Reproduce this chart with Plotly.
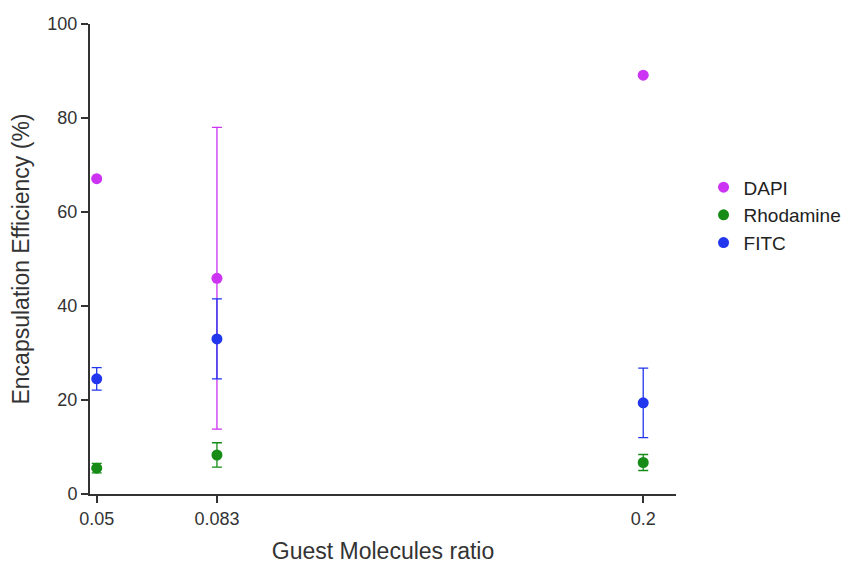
import plotly.graph_objects as go

ratios = [0.05, 0.083, 0.2]
tick_labels = ["0.05", "0.083", "0.2"]

dapi = [67.1, 45.9, 89.1]
dapi_err = [0.0, 32.1, 0.0]
rhodamine = [5.5, 8.3, 6.7]
rhodamine_err = [1.0, 2.6, 1.7]
fitc = [24.5, 33.0, 19.4]
fitc_err = [2.4, 8.5, 7.4]

series = [
    ("DAPI", dapi, dapi_err, "#cc33f2"),
    ("Rhodamine", rhodamine, rhodamine_err, "#168c16"),
    ("FITC", fitc, fitc_err, "#2236ee"),
]

fig = go.Figure()
for name, vals, errs, color in series:
    fig.add_trace(go.Scatter(
        x=ratios, y=vals, name=name, mode="markers",
        marker=dict(color=color, size=11),
        error_y=dict(type="data", array=errs, visible=True, color=color,
                     thickness=1.3, width=5),
    ))

FONT = "Liberation Sans, Arial, sans-serif"
axis_font = dict(family=FONT, size=18, color="#333333")
title_font = dict(family=FONT, size=23, color="#333333")
fig.update_layout(
    width=861, height=565,
    plot_bgcolor="white", paper_bgcolor="white",
    margin=dict(l=90, r=185, t=24, b=71, autoexpand=False),
    font=dict(family=FONT, color="#333333"),
    legend=dict(x=1.047, y=0.693, xanchor="left", yanchor="top",
                font=dict(family=FONT, size=19, color="#222222"), tracegroupgap=0,
                itemwidth=30, bgcolor="rgba(0,0,0,0)"),
    showlegend=True,
)
fig.update_xaxes(
    range=[0.04816, 0.209], tickvals=ratios, ticktext=tick_labels,
    showline=True, linecolor="#333333", linewidth=2,
    ticks="outside", ticklen=7, tickwidth=1.5, tickcolor="#333333",
    showgrid=False, zeroline=False, tickfont=axis_font, automargin=False,
    title=dict(text="Guest Molecules ratio", font=title_font, standoff=15),
)
fig.update_yaxes(
    range=[0, 100], tickvals=[0, 20, 40, 60, 80, 100],
    showline=True, linecolor="#333333", linewidth=2,
    ticks="outside", ticklen=7, tickwidth=1.5, tickcolor="#333333",
    showgrid=False, zeroline=False, tickfont=axis_font, automargin=False,
    title=dict(text="Encapsulation Efficiency (%)", font=title_font, standoff=11),
)
fig.write_html("out.html", config={"displayModeBar": False},
               post_script="document.body.style.margin='0px';")
